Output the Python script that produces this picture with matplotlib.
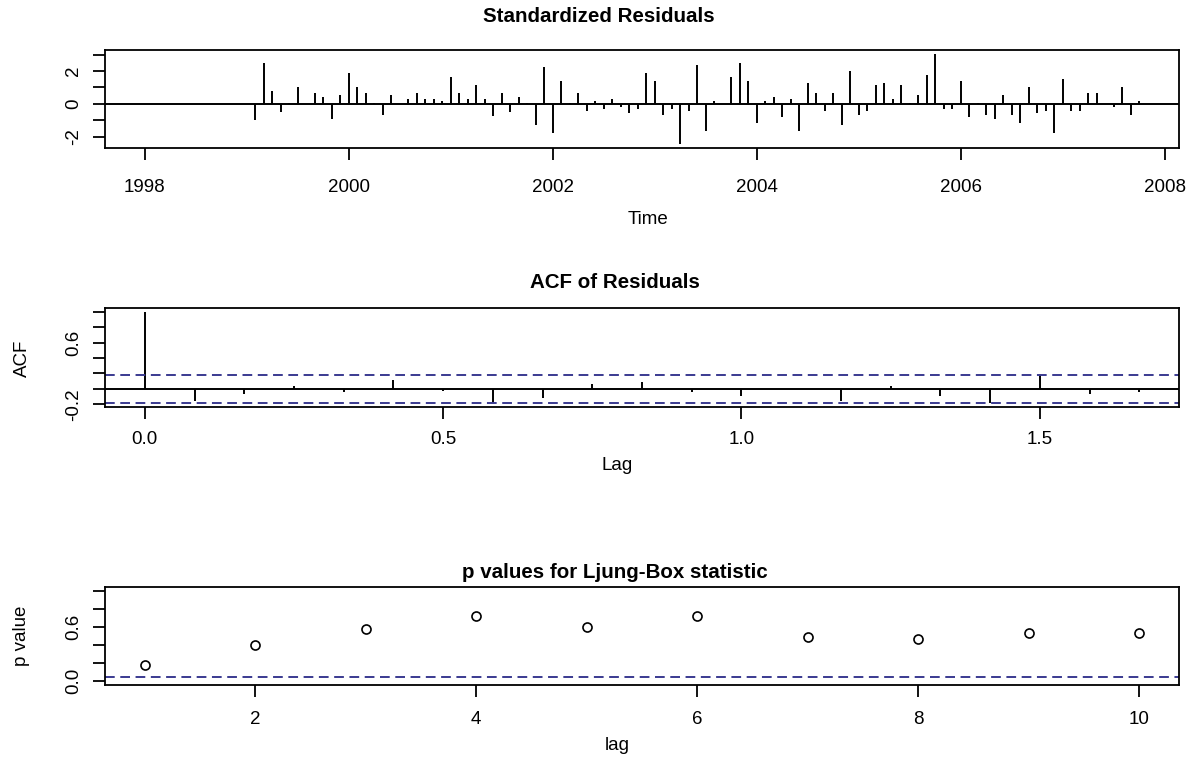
import matplotlib
matplotlib.use('Agg')
import matplotlib.pyplot as plt
import numpy as np

plt.rcParams['font.family'] = ['Liberation Sans', 'DejaVu Sans']
plt.rcParams['lines.scale_dashes'] = False

# ---------------- data ----------------
ts_start = 1998.0
ts_freq = 12
std_resid = [
    0.0, 0.0, 0.0, 0.0, 0.0, 0.0, 0.0, 0.0, 0.0, 0.0, 0.0, 0.0, 0.0,
    -1.00, 2.50, 0.79, -0.53, 0.04, 1.03, -0.04, 0.67, 0.40, -0.90,
    0.55, 1.90, 1.03, 0.67, 0.04, -0.67, 0.55, -0.04, 0.30, 0.67,
    0.30, 0.30, 0.18, 1.64, 0.67, 0.30, 1.15, 0.30, -0.77, 0.67,
    -0.53, 0.42, 0.04, -1.27, 2.26, -1.76, 1.37, 0.04, 0.67, -0.42,
    0.18, -0.30, 0.30, -0.18, -0.55, -0.30, 1.88, 1.39, -0.67, -0.30,
    -2.48, -0.42, 2.36, -1.64, 0.18, -0.04, 1.64, 2.50, 1.39, -1.15,
    0.18, 0.42, -0.79, 0.30, -1.64, 1.27, 0.67, -0.42, 0.67, -1.27,
    2.00, -0.67, -0.42, 1.15, 1.27, 0.30, 1.15, 0.04, 0.55, 1.76,
    3.07, -0.30, -0.30, 1.39, -0.79, 0.04, -0.67, -0.91, 0.55, -0.67,
    -1.15, 1.03, -0.55, -0.42, -1.76, 1.52, -0.42, -0.42, 0.67, 0.67,
    -0.04, -0.18, 1.03, -0.67, 0.18,
]
time_ticks = [1998, 2000, 2002, 2004, 2006, 2008]
resid_yticks = [-2, -1, 0, 1, 2, 3]
resid_ylabels = ['-2', '', '0', '', '2', '']

acf_lag_months = list(range(21))
acf_values = [1.0, -0.151, -0.062, 0.036, -0.040, 0.116, -0.031, -0.187,
              -0.120, 0.062, 0.093, -0.036, -0.098, 0.004, -0.151, 0.031,
              -0.098, -0.187, 0.180, -0.071, -0.040]
acf_ci = 0.185
acf_xticks = [0.0, 0.5, 1.0, 1.5]
acf_xlabels = ['0.0', '0.5', '1.0', '1.5']
acf_yticks = [-0.2, 0.0, 0.2, 0.4, 0.6, 0.8, 1.0]
acf_ylabels = ['-0.2', '', '', '', '0.6', '', '']

lb_lags = [1, 2, 3, 4, 5, 6, 7, 8, 9, 10]
lb_pvalues = [0.18, 0.40, 0.58, 0.715, 0.60, 0.715, 0.49, 0.47, 0.535, 0.535]
lb_sig = 0.05
lb_xticks = [2, 4, 6, 8, 10]
lb_yticks = [0.0, 0.2, 0.4, 0.6, 0.8, 1.0]
lb_ylabels = ['0.0', '', '', '0.6', '', '']

# ---------------- style ----------------
W, H = 1200, 766
DASH_COL = '#3a3a90'
LW = 1.4
TICK_FS = 13.5
TITLE_FS = 14.8
fig = plt.figure(figsize=(W / 100, H / 100), dpi=100)


def px_axes(l, t, r, b):
    return fig.add_axes([l / W, 1 - b / H, (r - l) / W, (b - t) / H])


def r_lim(vals):
    lo, hi = min(vals), max(vals)
    ext = 0.04 * (hi - lo)
    return lo - ext, hi + ext


def style(ax, xpad, ypad=8):
    for s in ax.spines.values():
        s.set_linewidth(1.3)
    ax.tick_params(axis='both', direction='out', length=8.5, width=1.3,
                   labelsize=TICK_FS, colors='black')
    ax.tick_params(axis='x', pad=xpad)
    ax.tick_params(axis='y', pad=ypad)
    for lab in ax.get_yticklabels():
        lab.set_rotation(90)
        lab.set_va('center')


def ftext(x, y, s, **kw):
    fig.text(x / W, 1 - y / H, s, ha='center', va='center', **kw)


# ---------- panel 1: standardized residuals ----------
t = ts_start + np.arange(len(std_resid)) / ts_freq
ax1 = px_axes(105, 50, 1179, 148)
ax1.vlines(t, 0, std_resid, color='black', lw=LW)
ax1.axhline(0, color='black', lw=LW)
ax1.set_xlim(*r_lim(t))
ax1.set_ylim(*r_lim(std_resid))
ax1.set_xticks(time_ticks)
ax1.set_xticklabels([str(v) for v in time_ticks])
ax1.set_yticks(resid_yticks)
ax1.set_yticklabels(resid_ylabels)
style(ax1, xpad=14)
ftext(599, 17, 'Standardized Residuals', fontsize=TITLE_FS, fontweight='bold')
ftext(648, 219, 'Time', fontsize=TICK_FS)

# ---------- panel 2: ACF ----------
lag_years = np.array(acf_lag_months) / ts_freq
ax2 = px_axes(105, 308, 1179, 407)
ax2.vlines(lag_years, 0, acf_values, color='black', lw=LW)
ax2.axhline(0, color='black', lw=LW)
for c in (acf_ci, -acf_ci):
    ax2.axhline(c, color=DASH_COL, lw=LW, dashes=(7, 4))
ax2.set_xlim(*r_lim(list(lag_years)))
ax2.set_ylim(*r_lim(acf_values + [-acf_ci]))
ax2.set_xticks(acf_xticks)
ax2.set_xticklabels(acf_xlabels)
ax2.set_yticks(acf_yticks)
ax2.set_yticklabels(acf_ylabels)
style(ax2, xpad=8.5)
ftext(615, 283, 'ACF of Residuals', fontsize=TITLE_FS, fontweight='bold')
ftext(617, 465, 'Lag', fontsize=TICK_FS)
ftext(22, 358, 'ACF', rotation=90, fontsize=TICK_FS)

# ---------- panel 3: Ljung-Box p-values ----------
ax3 = px_axes(105, 587, 1179, 685)
ax3.plot(lb_lags, lb_pvalues, 'o', mfc='none', mec='black', ms=6.5, mew=1.2)
ax3.axhline(lb_sig, color=DASH_COL, lw=LW, dashes=(7, 4))
ax3.set_xlim(*r_lim(lb_lags))
ax3.set_ylim(*r_lim([0, 1]))
ax3.set_xticks(lb_xticks)
ax3.set_xticklabels([str(v) for v in lb_xticks])
ax3.set_yticks(lb_yticks)
ax3.set_yticklabels(lb_ylabels)
style(ax3, xpad=10)
ftext(615, 573, 'p values for Ljung-Box statistic', fontsize=TITLE_FS,
      fontweight='bold')
ftext(617, 745, 'lag', fontsize=TICK_FS)
ftext(22, 636, 'p value', rotation=90, fontsize=TICK_FS)

fig.savefig('out.png', dpi=100)
